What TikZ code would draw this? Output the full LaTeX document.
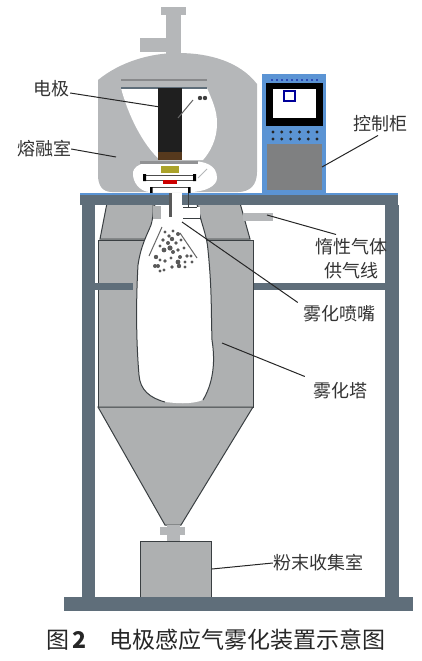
\documentclass[tikz,border=0pt]{standalone}
\usepackage{fontspec}
\setmainfont{Noto Sans CJK SC}
\usepackage{xcolor}
\definecolor{shell}{HTML}{B5B7B9}
\definecolor{tower}{HTML}{AEB0B1}
\definecolor{frame}{HTML}{5F6E7A}
\definecolor{cabinet}{HTML}{5B94D4}
\definecolor{panel}{HTML}{7F8081}
\definecolor{edge}{HTML}{3A3F42}
\begin{document}
\begin{tikzpicture}[
        x=1pt, y=-1pt,
        lbl/.style={inner sep=0pt, font=\fontsize{18}{20}\selectfont, text=black!80},
        leader/.style={draw=black!85, line width=1pt},
        hull/.style={draw=edge, line width=1pt, fill=tower},
        bar/.style={fill=frame, draw=none}
    ]
        \useasboundingbox (0,0) rectangle (422,661);
        % top pipe and melting chamber
        \fill[shell] (161,7) rectangle (186,15);
        \fill[shell] (166,15) rectangle (181,56);
        \fill[shell] (140,38) rectangle (167,52);
        \fill[shell] (98,80) .. controls (120,62) and (150,53) .. (178,53)
            .. controls (210,53) and (240,62) .. (257,84) -- (257,172)
            .. controls (257,185) and (250,192) .. (238,192) -- (112,192)
            .. controls (102,192) and (98,185) .. (98,175) -- cycle;
        \fill[shell!75!black] (121,79) rectangle (207,81);
        \fill[white] (121,88) -- (207,88) .. controls (212,100) and (217,110) .. (217,123)
            .. controls (217,140) and (210,152) .. (203,160) -- (160,160)
            .. controls (143,145) and (128,115) .. (121,88);
        \fill[frame] (121,87) rectangle (207,88.5);
        % electrode
        \fill[black!88] (158,88) rectangle (182,152);
        \fill[black!55!brown] (158,152) rectangle (182,160);
        \draw[black!60, line width=1pt] (178,118) -- (193,100);
        \fill[black!75] (200,98) circle (2.2) (205,98) circle (2.2);
        % lower chamber
        \fill[white] (133,172) .. controls (135,163) and (150,161) .. (165,161)
            -- (190,161) .. controls (205,161) and (217,165) .. (217,178)
            .. controls (217,186) and (205,192) .. (190,192) -- (150,192)
            .. controls (140,192) and (132,182) .. (133,172);
        \fill[shell!80!black] (140,161) rectangle (198,164);
        \fill[olive!75] (161,166) rectangle (179,173);
        \draw[black!70, line width=1pt] (144,180) -- (195,180) (144,175) -- (195,175);
        \fill[black] (143,174) rectangle (146,181) (193,174) rectangle (196,181);
        \fill[red!80!black] (163,180) rectangle (177,184);
        \draw[shell, line width=1pt] (198,178) -- (207,169);
        \draw[black!70, line width=1pt] (151,187) -- (189,187);
        \fill[black] (150,187) rectangle (152.5,193) (188,187) rectangle (190.5,193);
        % frame
        \fill[bar] (82,205) rectangle (95,597);
        \fill[bar] (385,205) rectangle (399,597);
        \fill[bar] (64,597) rectangle (413,611);
        \fill[bar] (253,283) rectangle (385,290);
        % atomizing tower
        \draw[hull] (98,407) rectangle (253,240);
        \draw[hull] (107,203) -- (153,203) -- (153,239) -- (100,239) -- cycle;
        \draw[hull] (197,203) -- (240,203) -- (250,239) -- (205,239) -- cycle;
        \draw[hull] (98,407) -- (253,407) -- (181,525) -- (165,525) -- cycle;
        \fill[shell] (160,527) rectangle (185,535);
        \fill[shell] (167,525) rectangle (180,541);
        \draw[hull] (140,597) -- (140,541) -- (211,541) -- (211,597);
        \fill[white] (155,204) -- (197,204) .. controls (200,220) and (207,235) .. (208,250)
            .. controls (212,290) and (211,310) .. (212,340)
            .. controls (216,365) and (212,385) .. (203,400)
            .. controls (190,405) and (175,403) .. (165,402)
            .. controls (150,398) and (140,390) .. (139,375)
            .. controls (136,340) and (136,300) .. (138,265)
            .. controls (141,245) and (147,235) .. (151,225) -- cycle;
        \draw[edge, line width=1pt] (155,204) .. controls (153,215) and (152,222) .. (151,225)
            .. controls (147,235) and (141,245) .. (138,265)
            .. controls (136,300) and (136,340) .. (139,375)
            .. controls (140,390) and (150,398) .. (165,402)
            (197,204) .. controls (200,220) and (207,235) .. (208,250)
            .. controls (212,290) and (211,310) .. (212,340)
            .. controls (216,365) and (212,385) .. (203,400);
        \fill[bar] (95,283) rectangle (133,290);
        % table top and nozzle
        \fill[bar] (80,193) rectangle (398,205);
        \fill[cabinet] (80,193) rectangle (398,194.5);
        \fill[white] (170,193) rectangle (182,225);
        \fill[black!65] (169,193) rectangle (172,217);
        \fill[tower] (153,206) rectangle (161,219);
        \fill[white] (183,207) rectangle (200,219);
        \draw[edge, line width=1pt] (183,207) -- (197,207) (183,218) -- (200,218);
        \draw[edge, line width=1pt] (188,193) -- (188,207);
        \draw[black!60, line width=1pt] (162,227) -- (149,256) (180,233) -- (197,258);
        \foreach \px/\py/\pr in {165/232/1.6,169/236/1.8,173/231/1.6,178/234/2,163/240/1.8,
            168/243/2,172/239/2.2,176/243/1.8,181/240/1.6,160/246/1.6,164/250/2.4,
            170/248/2.6,173/252/2,178/250/1.8,184/248/1.6,187/256/1.8,156/257/2.2,
            160/260/1.6,165/261/1.8,171/258/1.6,178/262/2.4,180/257/2,185/262/1.6,
            191/256/1.6,155/266/2,158/266/2,164/270/1.6,172/267/1.8,179/266/2.2,
            185/267/1.6,192/262/1.6,160/271/1.6}
            \fill[black!65] (\px,\py) circle (\pr);
        % gas pipe
        \fill[shell] (243,213) rectangle (273,221);
        % control cabinet
        \fill[cabinet] (262,74) rectangle (326,193);
        \foreach \px in {272,277,...,320}
            \fill[blue!60!black] (\px,80) circle (0.8);
        \fill[black] (266,83) rectangle (323,126);
        \fill[white] (273,89) rectangle (316,118);
        \draw[blue!60!black, line width=1.5pt] (284,91) rectangle (295,101);
        \foreach \py in {132,139}
            \foreach \px in {273,281.8,...,318}
                \fill[black!85] (\px,\py) circle (1.6);
        \fill[panel] (267,144) rectangle (322,190);
        % labels
        \node[lbl] (elec)  at (51,89)   {电极};
        \node[lbl] (melt)  at (44,149)  {熔融室};
        \node[lbl] (ctrl)  at (380,124) {控制柜};
        \node[lbl] (gas)   at (351,247) {惰性气体};
        \node[lbl] (line)  at (351,271) {供气线};
        \node[lbl] (noz)   at (339,314) {雾化喷嘴};
        \node[lbl] (twr)   at (340,391) {雾化塔};
        \node[lbl] (coll)  at (318,563) {粉末收集室};
        \node[inner sep=0pt, font=\fontsize{23}{25}\selectfont, text=black!85] (cap) at (216,640)
            {图\,\textbf{2}\quad 电极感应气雾化装置示意图};
        \coordinate (elecend) at (160,107);
        \coordinate (meltend) at (116,157);
        \coordinate (ctrlend) at (322,167);
        \coordinate (gasend)  at (267,215);
        \coordinate (nozend)  at (182,222);
        \coordinate (twrend)  at (222,343);
        \coordinate (collend) at (212,569);
        \draw[leader] (elec.east) ++(1,4) -- (elecend);
        \draw[leader] (melt.east) -- (meltend);
        \draw[leader] (ctrl.south) ++(-2,3) -- (ctrlend);
        \draw[leader] (gas.north) ++(-15,-4) -- (gasend);
        \draw[leader] (noz.north west) ++(-5,-3) -- (nozend);
        \draw[leader] (twr.north west) ++(-8,-6) -- (twrend);
        \draw[leader] (coll.west) -- (collend);
    \end{tikzpicture}
\end{document}
